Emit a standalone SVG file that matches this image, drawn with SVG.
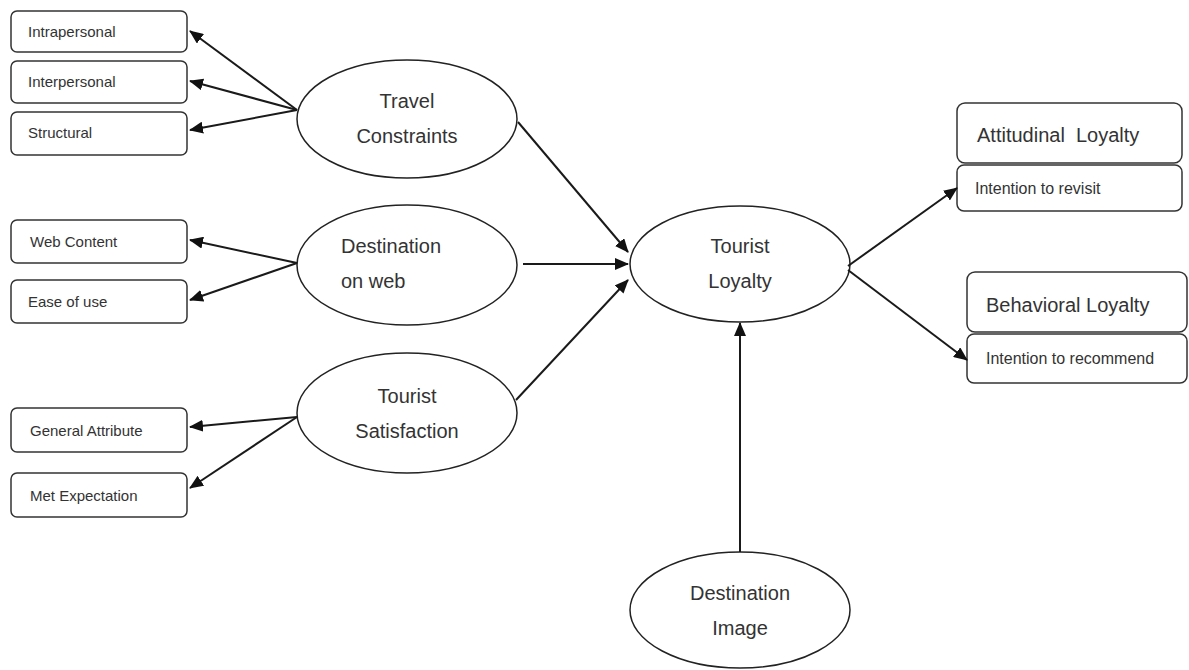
<svg xmlns="http://www.w3.org/2000/svg" width="1189" height="670" viewBox="0 0 1189 670">
<style>
.box{fill:#fff;stroke:#333;stroke-width:1.5}
.ell{fill:#fff;stroke:#222;stroke-width:1.5}
.t{font-family:"Liberation Sans",Arial,sans-serif;fill:#333}
.s{font-size:15px}
.m{font-size:16px}
.l{font-size:20px}
.c{text-anchor:middle}
.con line{stroke:#1a1a1a;stroke-width:2;marker-end:url(#ah)}
</style>
<defs>
<marker id="ah" markerUnits="userSpaceOnUse" markerWidth="14" markerHeight="12" refX="13" refY="6" orient="auto">
<path d="M0,0 L14,6 L0,12 Z" fill="#111"/>
</marker>
</defs>
<rect width="1189" height="670" fill="#fff"/>

<g id="intrapersonal"><rect class="box" x="11" y="11" width="176" height="41" rx="6"/><text class="t s" x="28" y="37">Intrapersonal</text></g>
<g id="interpersonal"><rect class="box" x="11" y="61" width="176" height="42" rx="6"/><text class="t s" x="28" y="87">Interpersonal</text></g>
<g id="structural"><rect class="box" x="11" y="112" width="176" height="43" rx="6"/><text class="t s" x="28" y="138">Structural</text></g>

<g id="web-content"><rect class="box" x="11" y="220" width="176" height="43" rx="6"/><text class="t s" x="30" y="247">Web Content</text></g>
<g id="ease-of-use"><rect class="box" x="11" y="280" width="176" height="43" rx="6"/><text class="t s" x="28" y="307">Ease of use</text></g>

<g id="general-attribute"><rect class="box" x="11" y="408" width="176" height="44" rx="6"/><text class="t s" x="30" y="436">General Attribute</text></g>
<g id="met-expectation"><rect class="box" x="11" y="473" width="176" height="44" rx="6"/><text class="t s" x="30" y="501">Met Expectation</text></g>

<g id="travel-constraints"><ellipse class="ell" cx="407" cy="119" rx="110" ry="59"/><text class="t l c" x="407" y="108">Travel</text><text class="t l c" x="407" y="143">Constraints</text></g>
<g id="destination-on-web"><ellipse class="ell" cx="407" cy="265" rx="110" ry="60"/><text class="t l" x="341" y="253">Destination</text><text class="t l" x="341" y="288">on web</text></g>
<g id="tourist-satisfaction"><ellipse class="ell" cx="407" cy="413" rx="110" ry="60"/><text class="t l c" x="407" y="403">Tourist</text><text class="t l c" x="407" y="438">Satisfaction</text></g>

<g id="tourist-loyalty"><ellipse class="ell" cx="740" cy="264" rx="110" ry="58"/><text class="t l c" x="740" y="253">Tourist</text><text class="t l c" x="740" y="288">Loyalty</text></g>
<g id="destination-image"><ellipse class="ell" cx="740" cy="610" rx="110" ry="58"/><text class="t l c" x="740" y="600">Destination</text><text class="t l c" x="740" y="635">Image</text></g>

<g id="attitudinal-loyalty"><rect class="box" x="957" y="103" width="225" height="60" rx="8"/><text class="t l" x="977" y="142" xml:space="preserve">Attitudinal  Loyalty</text></g>
<g id="intention-revisit"><rect class="box" x="957" y="165" width="225" height="46" rx="7"/><text class="t m" x="975" y="194">Intention to revisit</text></g>
<g id="behavioral-loyalty"><rect class="box" x="967" y="272" width="220" height="60" rx="8"/><text class="t l" x="986" y="312">Behavioral Loyalty</text></g>
<g id="intention-recommend"><rect class="box" x="967" y="334" width="220" height="49" rx="7"/><text class="t m" x="986" y="364">Intention to recommend</text></g>

<g id="connectors" class="con">
<line x1="297" y1="110" x2="190" y2="31"/>
<line x1="297" y1="110" x2="190" y2="81"/>
<line x1="297" y1="110" x2="190" y2="130"/>
<line x1="297" y1="263" x2="190" y2="240"/>
<line x1="297" y1="263" x2="190" y2="300"/>
<line x1="297" y1="417" x2="190" y2="427"/>
<line x1="297" y1="417" x2="190" y2="488"/>
<line x1="518" y1="122" x2="628" y2="252"/>
<line x1="523" y1="264" x2="628" y2="264"/>
<line x1="516" y1="400" x2="628" y2="280"/>
<line x1="740" y1="552" x2="740" y2="323"/>
<line x1="848" y1="266" x2="957" y2="188"/>
<line x1="848" y1="270" x2="967" y2="360"/>
</g>
</svg>
